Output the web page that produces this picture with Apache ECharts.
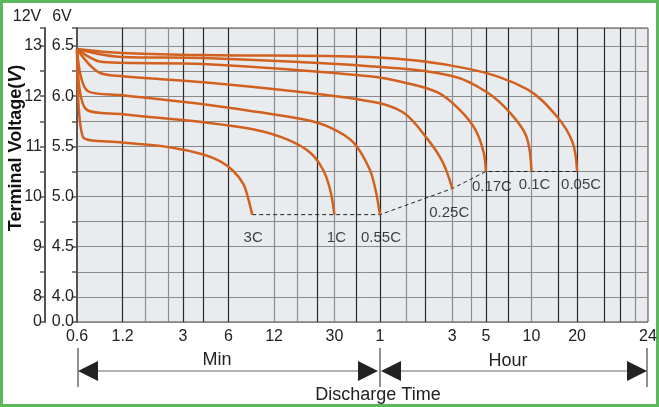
<!DOCTYPE html>
<html>
<head>
<meta charset="utf-8">
<script src="https://cdn.jsdelivr.net/npm/echarts@6/dist/echarts.min.js"></script>
<style>
html, body { margin: 0; padding: 0; background: #fff; }
#chart { width: 659px; height: 407px; }
</style>
</head>
<body>
<div id="chart"></div>
<script>
// time in minutes, voltage on the 6V scale (12V scale = x2)
const timeTicks = [0.6, 1.2, 3, 6, 12, 30, 60, 180, 300, 600, 1200, 3525];
const timeTickLabels = ['0.6', '1.2', '3', '6', '12', '30', '1', '3', '5', '10', '20', '24'];
const darkGrid = [1.2, 3, 4.1, 6, 23, 42, 60, 120, 300, 420, 900, 1200, 1800, 2300];
const lightGrid = [1.7, 2.4, 12, 17, 30, 90, 180, 240, 600, 2900];

const rates = ['3C', '1C', '0.55C', '0.25C', '0.17C', '0.1C', '0.05C'];
const c3 = [[0.6, 6.47], [0.66, 5.59], [1.2, 5.54], [2.5, 5.49], [4.1, 5.42], [5.3, 5.35], [6.4, 5.26], [7.5, 5.13], [8.1, 4.98], [8.6, 4.82]];
const c1 = [[0.6, 6.47], [0.69, 5.87], [1.2, 5.82], [4.1, 5.74], [8.7, 5.67], [14.6, 5.57], [20.7, 5.44], [25.2, 5.27], [28.1, 5.07], [30, 4.82]];
const c055 = [[0.6, 6.47], [0.71, 6.05], [1.2, 6.01], [4.1, 5.92], [8.7, 5.85], [18.6, 5.77], [28, 5.69], [40, 5.54], [51, 5.28], [56, 5.07], [60, 4.82]];
const c025 = [[0.6, 6.47], [0.83, 6.24], [1.2, 6.2], [4.1, 6.14], [18.6, 6.04], [51, 5.95], [85, 5.84], [124, 5.57], [156, 5.34], [180, 5.08]];
const c017 = [[0.6, 6.47], [0.89, 6.34], [4.1, 6.32], [51, 6.2], [85, 6.14], [143, 6.04], [200, 5.87], [255, 5.67], [290, 5.44], [300, 5.25]];
const c01 = [[0.6, 6.47], [1.2, 6.39], [4.1, 6.38], [51, 6.3], [182, 6.2], [305, 6.04], [430, 5.84], [555, 5.6], [600, 5.25]];
const c005 = [[0.6, 6.47], [1.2, 6.43], [4.1, 6.41], [51, 6.39], [236, 6.27], [560, 6.07], [880, 5.8], [1120, 5.54], [1200, 5.25]];
const curves = [c3, c1, c055, c025, c017, c01, c005];

const fontFam = "'Liberation Sans', Arial, sans-serif";
const curveColor = '#d2601f';

let chart = echarts.init(document.getElementById('chart'));

// end points -> dashed cut-off line + rate labels
let endPoints = curves.map(c => c[c.length - 1]);
// label placement tweaks (distance below, x shift)
let labelPlace = [[15, 1], [15, 2], [15, 1], [16, -3], [7, 6], [5, 3], [5, 4]];

let gridLines = darkGrid.map(v => ({ xAxis: v, lineStyle: { color: '#2b2b2b', width: 1.2, type: 'solid' } }))
    .concat(lightGrid.map(v => ({ xAxis: v, lineStyle: { color: '#8e8e8e', width: 1.2, type: 'solid' } })));
let tickLines = timeTicks.map((v, i) => ({
    xAxis: v,
    lineStyle: { color: 'rgba(0,0,0,0)', width: 0 },
    label: { show: true, formatter: timeTickLabels[i] }
}));

let v6Label = function (v) {
    if (Math.abs(v - 3.75) < 1e-6) return '0.0';
    if (Math.abs(v * 2 - Math.round(v * 2)) < 1e-6) return v.toFixed(1);
    return '';
};
let v12Label = function (v) {
    if (Math.abs(v - 3.75) < 1e-6) return '0';
    if (Math.abs(v * 2 - Math.round(v * 2)) < 1e-6) return String(Math.round(v * 2));
    return '';
};

let yCommon = {
    type: 'value',
    min: 3.75,
    max: 6.68,
    interval: 0.25,
    position: 'left',
    axisLine: { show: true, lineStyle: { color: '#555', width: 2 } },
    axisTick: { show: true, inside: false, length: 5, lineStyle: { color: '#555', width: 1.5 } },
    axisLabel: { color: '#222', fontSize: 16, fontFamily: fontFam, margin: 3 }
};

let option = {
    animation: false,
    backgroundColor: '#fff',
    grid: {
        left: 77, right: 11, top: 28, bottom: 85,
        show: true,
        backgroundColor: '#e8ecef',
        borderColor: '#444',
        borderWidth: 1
    },
    xAxis: {
        type: 'log',
        logBase: 10,
        min: 0.6,
        max: 3525,
        axisLine: { show: false },
        axisTick: { show: false },
        axisLabel: { show: false },
        splitLine: { show: false }
    },
    yAxis: [
        Object.assign({}, yCommon, {
            offset: 0,
            axisLabel: Object.assign({}, yCommon.axisLabel, { formatter: v6Label }),
            splitLine: { show: true, lineStyle: { color: '#8a8a8a', width: 1 } }
        }),
        Object.assign({}, yCommon, {
            offset: 32,
            axisLabel: Object.assign({}, yCommon.axisLabel, { formatter: v12Label }),
            splitLine: { show: false }
        })
    ],
    series: [
        {
            // carrier for the vertical grid lines and time tick labels
            type: 'line',
            data: [[0.6, 3.75]],
            symbol: 'none',
            lineStyle: { opacity: 0 },
            silent: true,
            z: 1,
            markLine: {
                silent: true,
                z: 1,
                symbol: ['none', 'none'],
                animation: false,
                label: {
                    show: false,
                    position: 'start',
                    distance: 7,
                    color: '#222',
                    fontSize: 16,
                    fontFamily: fontFam
                },
                data: gridLines.concat(tickLines)
            }
        }
    ].concat(curves.map((c, i) => ({
        name: rates[i],
        type: 'line',
        data: c,
        showSymbol: false,
        smooth: 0.35,
        lineStyle: { color: curveColor, width: 2.5 },
        z: 4
    }))).concat([
        {
            type: 'line',
            data: endPoints,
            showSymbol: false,
            lineStyle: { color: '#222', width: 1, type: [4, 3] },
            z: 3
        },
        {
            type: 'scatter',
            symbolSize: 1,
            itemStyle: { color: 'rgba(0,0,0,0)' },
            data: endPoints.map((p, i) => ({
                value: p,
                label: {
                    show: true,
                    position: 'bottom',
                    formatter: rates[i],
                    distance: labelPlace[i][0],
                    offset: [labelPlace[i][1], 0],
                    color: '#111',
                    fontSize: 15,
                    fontFamily: fontFam
                }
            })),
            z: 5
        }
    ]),
    graphic: [
        {
            type: 'rect',
            shape: { x: 1.5, y: 1.5, width: 656, height: 404 },
            style: { fill: 'none', stroke: '#5cb85c', lineWidth: 3 },
            silent: true
        },
        {
            type: 'text',
            x: 16, y: 148,
            rotation: Math.PI / 2,
            style: {
                text: '{a|Terminal Voltage(}{b|V}{a|)}',
                align: 'center',
                verticalAlign: 'middle',
                rich: {
                    a: { font: 'bold 18px ' + fontFam, fill: '#111' },
                    b: { font: 'italic bold 18px ' + fontFam, fill: '#111' }
                }
            }
        },
        {
            type: 'text', x: 27, y: 17,
            style: { text: '12V', font: '16px ' + fontFam, fill: '#222', align: 'center', verticalAlign: 'middle' }
        },
        {
            type: 'text', x: 62, y: 17,
            style: { text: '6V', font: '16px ' + fontFam, fill: '#222', align: 'center', verticalAlign: 'middle' }
        }
    ]
};

chart.setOption(option);

// arrows under the time axis, placed on the axis scale
let px = v => chart.convertToPixel({ xAxisIndex: 0 }, v);
let x0 = px(timeTicks[0]);
let xh = px(60);
let xe = px(timeTicks[timeTicks.length - 1]);
let ay = 371;
let arrow = (tip, dir) => ({
    type: 'polygon',
    shape: { points: [[tip, ay], [tip + dir * 20, ay - 10], [tip + dir * 20, ay + 10]] },
    style: { fill: '#222' },
    silent: true
});
let bar = x => ({
    type: 'line',
    shape: { x1: x, y1: 348, x2: x, y2: 387 },
    style: { stroke: '#222', lineWidth: 1 },
    silent: true
});
let extra = [
    bar(x0 + 1), bar(xh), bar(xe - 1),
    { type: 'line', shape: { x1: x0 + 10, y1: ay, x2: xh - 10, y2: ay }, style: { stroke: '#666', lineWidth: 1 }, silent: true },
    { type: 'line', shape: { x1: xh + 10, y1: ay, x2: xe - 10, y2: ay }, style: { stroke: '#666', lineWidth: 1 }, silent: true },
    arrow(x0 + 1, 1), arrow(xh - 2, -1), arrow(xh + 1, 1), arrow(xe - 1, -1),
    { type: 'text', x: 217, y: 360, style: { text: 'Min', font: '18px ' + fontFam, fill: '#222', align: 'center', verticalAlign: 'middle' } },
    { type: 'text', x: 508, y: 361, style: { text: 'Hour', font: '18px ' + fontFam, fill: '#222', align: 'center', verticalAlign: 'middle' } },
    { type: 'text', x: 378, y: 395, style: { text: 'Discharge Time', font: '18px ' + fontFam, fill: '#222', align: 'center', verticalAlign: 'middle' } }
];
chart.setOption({ graphic: option.graphic.concat(extra) });
</script>
</body>
</html>
